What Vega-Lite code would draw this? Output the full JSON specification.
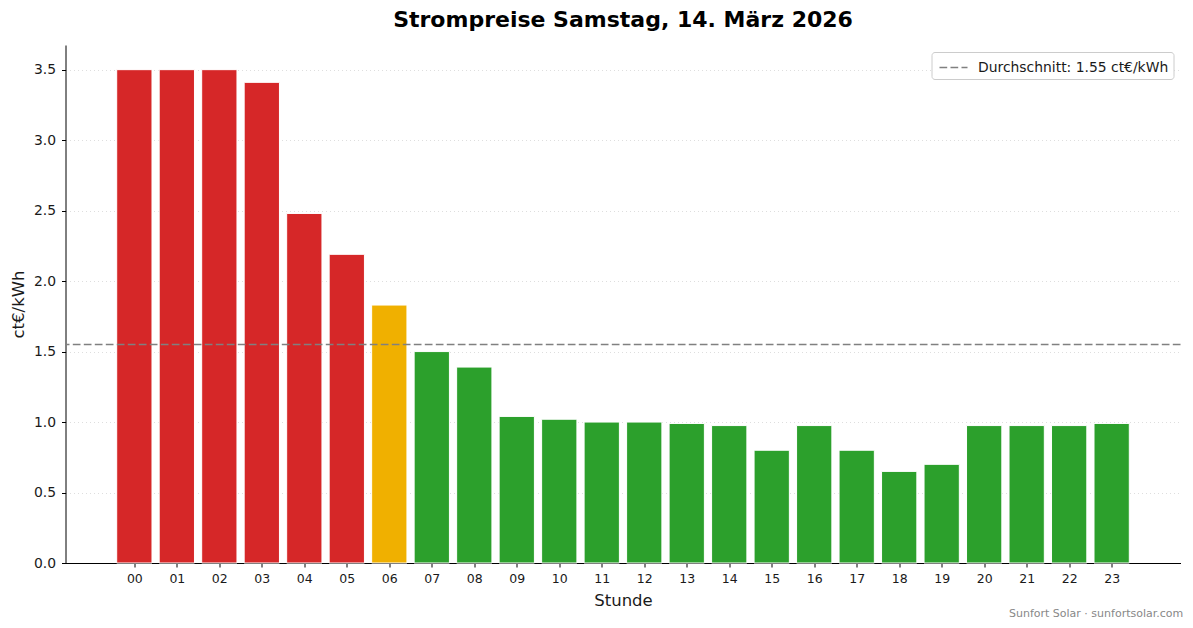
{
  "$schema": "https://vega.github.io/schema/vega-lite/v6.json",
  "description": "Strompreise je Stunde mit Durchschnittslinie.",
  "background": "white",
  "padding": {"left": 9.5, "top": 9, "right": 10, "bottom": 2},
  "title": {
    "text": "Sunfort Solar · sunfortsolar.com",
    "orient": "bottom",
    "anchor": "end",
    "font": "DejaVu Sans",
    "fontSize": 11,
    "fontWeight": "normal",
    "color": "#888888",
    "offset": -1,
    "dx": 2
  },
  "config": {
    "view": {"stroke": null},
    "font": "DejaVu Sans",
    "axis": {
      "labelFont": "DejaVu Sans",
      "titleFont": "DejaVu Sans",
      "labelColor": "#1a1a1a",
      "titleColor": "#1a1a1a",
      "titleFontWeight": "normal",
      "titleFontSize": 16.5,
      "domainColor": "black",
      "tickColor": "black",
      "tickSize": 4,
      "gridColor": "#d6d6d6",
      "gridDash": [1, 3],
      "gridWidth": 0.8
    },
    "legend": {
      "orient": "top-right",
      "offset": 7,
      "strokeColor": "#cccccc",
      "fillColor": "white",
      "cornerRadius": 3,
      "padding": 4.5,
      "symbolType": "M-0.75,0H2.05",
      "symbolSize": 400,
      "symbolStrokeWidth": 1.5,
      "symbolStrokeColor": "#808080",
      "symbolFillColor": "transparent",
      "labelFont": "DejaVu Sans",
      "labelFontSize": 13.9,
      "labelColor": "#1a1a1a",
      "labelLimit": 400,
      "labelOffset": 20
    }
  },
  "vconcat": [
    {
      "width": 1115,
      "height": 518,
      "title": {
        "text": "Strompreise Samstag, 14. März 2026",
        "anchor": "middle",
        "frame": "group",
        "font": "DejaVu Sans",
        "fontSize": 22,
        "fontWeight": "bold",
        "color": "black",
        "offset": 13
      },
      "layer": [
        {
          "data": {
            "values": [
              {"stunde": 0, "preis": 3.50, "stufe": "hoch"},
              {"stunde": 1, "preis": 3.50, "stufe": "hoch"},
              {"stunde": 2, "preis": 3.50, "stufe": "hoch"},
              {"stunde": 3, "preis": 3.41, "stufe": "hoch"},
              {"stunde": 4, "preis": 2.48, "stufe": "hoch"},
              {"stunde": 5, "preis": 2.19, "stufe": "hoch"},
              {"stunde": 6, "preis": 1.83, "stufe": "mittel"},
              {"stunde": 7, "preis": 1.50, "stufe": "niedrig"},
              {"stunde": 8, "preis": 1.39, "stufe": "niedrig"},
              {"stunde": 9, "preis": 1.04, "stufe": "niedrig"},
              {"stunde": 10, "preis": 1.02, "stufe": "niedrig"},
              {"stunde": 11, "preis": 1.00, "stufe": "niedrig"},
              {"stunde": 12, "preis": 1.00, "stufe": "niedrig"},
              {"stunde": 13, "preis": 0.99, "stufe": "niedrig"},
              {"stunde": 14, "preis": 0.975, "stufe": "niedrig"},
              {"stunde": 15, "preis": 0.80, "stufe": "niedrig"},
              {"stunde": 16, "preis": 0.975, "stufe": "niedrig"},
              {"stunde": 17, "preis": 0.80, "stufe": "niedrig"},
              {"stunde": 18, "preis": 0.65, "stufe": "niedrig"},
              {"stunde": 19, "preis": 0.70, "stufe": "niedrig"},
              {"stunde": 20, "preis": 0.975, "stufe": "niedrig"},
              {"stunde": 21, "preis": 0.975, "stufe": "niedrig"},
              {"stunde": 22, "preis": 0.975, "stufe": "niedrig"},
              {"stunde": 23, "preis": 0.99, "stufe": "niedrig"}
            ]
          },
          "mark": {"type": "bar", "size": 35.3, "stroke": "white", "strokeWidth": 1},
          "encoding": {
            "x": {
              "field": "stunde",
              "type": "quantitative",
              "scale": {"domain": [-1.62, 24.62], "nice": false, "zero": false, "padding": 0},
              "axis": {
                "title": "Stunde",
                "values": [0, 1, 2, 3, 4, 5, 6, 7, 8, 9, 10, 11, 12, 13, 14, 15, 16, 17, 18, 19, 20, 21, 22, 23],
                "format": "02d",
                "labelFontSize": 12.5,
                "labelPadding": 5,
                "titlePadding": 8,
                "labelFlush": false,
                "grid": false
              }
            },
            "y": {
              "field": "preis",
              "type": "quantitative",
              "scale": {"domain": [0, 3.675], "nice": false},
              "axis": {
                "title": "ct€/kWh",
                "values": [0, 0.5, 1, 1.5, 2, 2.5, 3, 3.5],
                "format": ".1f",
                "labelFontSize": 13.9,
                "labelPadding": 6,
                "titlePadding": 7,
                "grid": true
              }
            },
            "color": {
              "field": "stufe",
              "type": "nominal",
              "scale": {
                "domain": ["hoch", "mittel", "niedrig"],
                "range": ["#d62728", "#f0b000", "#2ca02c"]
              },
              "legend": null
            }
          }
        },
        {
          "data": {
            "values": [
              {"wert": 1.55, "label": "Durchschnitt: 1.55 ct€/kWh"}
            ]
          },
          "mark": {"type": "rule", "color": "#808080", "strokeWidth": 1.5},
          "encoding": {
            "y": {
              "field": "wert",
              "type": "quantitative",
              "scale": {"domain": [0, 3.675], "nice": false},
              "title": "ct€/kWh"
            },
            "strokeDash": {
              "field": "label",
              "type": "nominal",
              "scale": {"range": [[7.7, 3.3]]},
              "legend": {"title": null}
            }
          }
        }
      ]
    }
  ]
}
